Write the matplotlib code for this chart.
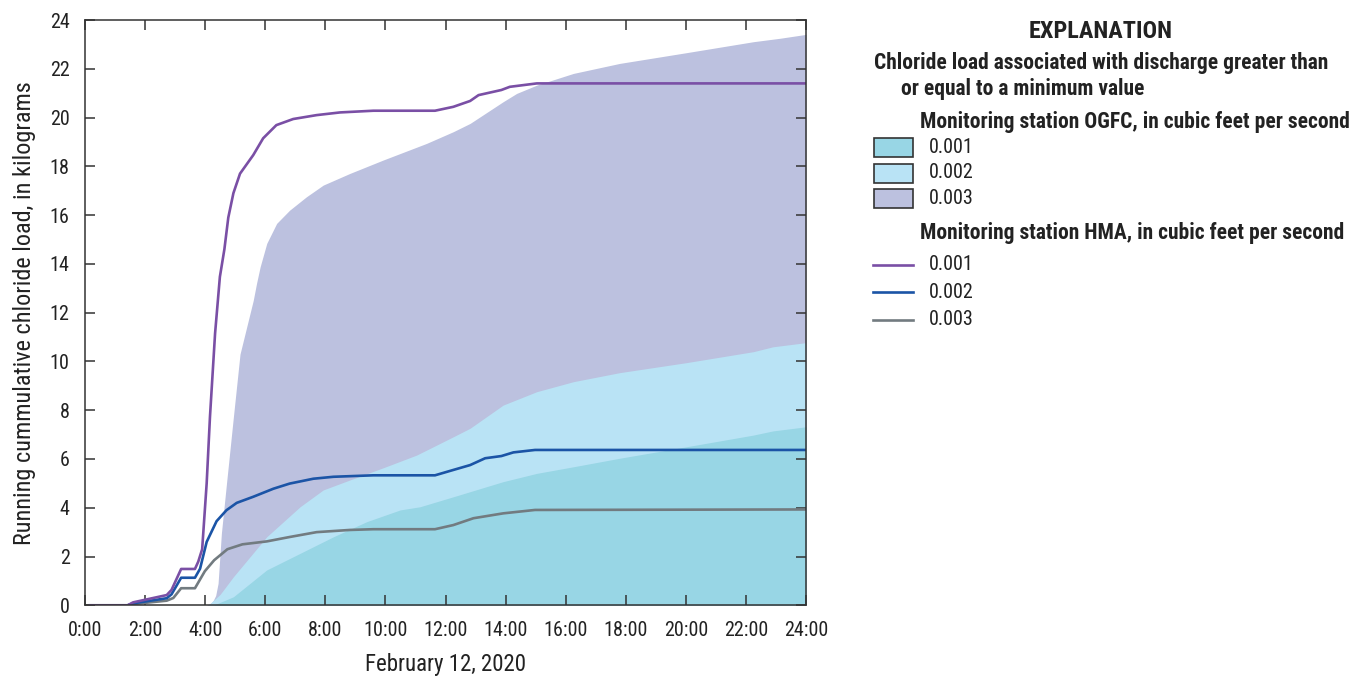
import numpy as np
import matplotlib.pyplot as plt
from matplotlib.patches import Rectangle
from matplotlib.lines import Line2D

plt.rcParams['font.family'] = ['Roboto Condensed', 'DejaVu Sans']

# OGFC running loads (kg), shaded areas
ogfc_003_t = [0, 4.05, 4.2, 4.27, 4.35, 4.43, 4.54, 4.71, 4.94, 5.16, 5.44, 5.6, 5.71, 5.83,
              6.05, 6.38, 6.81, 7.37, 7.93, 8.82, 9.93, 11.37, 12.26, 12.82, 13.92, 14.37,
              15.04, 16.26, 17.8, 20.02, 22.25, 23.13, 24]
ogfc_003_v = [0, 0, 0.1, 0.2, 0.4, 0.9, 2.95, 5.0, 7.73, 10.3, 11.7, 12.5, 13.2, 13.88,
              14.84, 15.66, 16.2, 16.75, 17.23, 17.71, 18.26, 18.94, 19.42, 19.76, 20.65, 20.99,
              21.33, 21.81, 22.22, 22.66, 23.11, 23.25, 23.41]

ogfc_002_t = [0, 4.1, 4.5, 4.94, 6.05, 7.16, 7.93, 8.82, 9.93, 11.04, 12.26, 12.82, 13.92,
              15.04, 16.26, 17.8, 20.02, 22.25, 22.9, 24]
ogfc_002_v = [0, 0, 0.45, 1.17, 2.81, 4.04, 4.73, 5.14, 5.64, 6.16, 6.91, 7.26, 8.21,
              8.76, 9.17, 9.54, 9.95, 10.4, 10.6, 10.77]

ogfc_001_t = [0, 4.27, 4.94, 6.05, 7.16, 8.27, 9.38, 10.49, 11.15, 12.26, 13.92, 15.04, 16.26,
              17.8, 20.02, 22.25, 22.9, 24]
ogfc_001_v = [0, 0, 0.35, 1.45, 2.13, 2.81, 3.43, 3.91, 4.04, 4.45, 5.07, 5.41, 5.68,
              6.03, 6.5, 6.98, 7.15, 7.32]

# HMA running loads (kg), lines
hma_001_t = [0.17, 1.42, 1.6, 2.72, 2.88, 3.2, 3.66, 3.77, 3.9, 4.05, 4.16, 4.33, 4.49, 4.64,
             4.77, 4.94, 5.16, 5.6, 5.93, 6.37, 6.93, 7.71, 8.49, 9.6, 11.65, 12.26, 12.82,
             13.1, 13.86, 14.14, 15.04, 24]
hma_001_v = [0, 0, 0.12, 0.42, 0.63, 1.49, 1.49, 1.79, 2.3, 5.0, 7.73, 11.15, 13.47, 14.6,
             15.9, 16.9, 17.7, 18.46, 19.15, 19.69, 19.94, 20.1, 20.21, 20.28, 20.28, 20.44,
             20.68, 20.92, 21.13, 21.26, 21.4, 21.4]

hma_002_t = [0.17, 1.42, 1.6, 2.72, 2.88, 3.2, 3.66, 3.83, 4.05, 4.38, 4.71, 5.05, 5.6, 6.27,
             6.81, 7.6, 8.27, 9.6, 11.65, 12.26, 12.82, 13.32, 13.86, 14.26, 14.98, 24]
hma_002_v = [0, 0, 0.08, 0.29, 0.45, 1.13, 1.13, 1.5, 2.6, 3.45, 3.9, 4.2, 4.45, 4.78,
             4.99, 5.19, 5.27, 5.33, 5.33, 5.55, 5.75, 6.03, 6.12, 6.27, 6.37, 6.37]

hma_003_t = [0.17, 1.42, 1.6, 2.72, 2.94, 3.2, 3.66, 3.99, 4.3, 4.74, 5.24, 6.05, 6.81, 7.71,
             8.82, 9.6, 11.65, 12.26, 12.93, 13.92, 14.98, 24]
hma_003_v = [0, 0, 0.05, 0.19, 0.3, 0.7, 0.7, 1.4, 1.85, 2.3, 2.5, 2.62, 2.8, 3.0,
             3.09, 3.12, 3.12, 3.29, 3.57, 3.77, 3.91, 3.93]

xticks = list(range(0, 25, 2))
xtick_labels = ['%d:00' % h for h in xticks]
yticks = list(range(0, 25, 2))
levels = ['0.001', '0.002', '0.003']

fill_colors = ['#98d6e5', '#b9e3f5', '#bcc1df']
line_colors = ['#7a4fa5', '#1b54a6', '#727b80']
edge = '#333333'

fig = plt.figure(figsize=(13.53, 6.78), dpi=100)
ax = fig.add_axes([85 / 1353, 1 - 605.3 / 678, 721 / 1353, 585.3 / 678])

ax.fill_between(ogfc_003_t, ogfc_003_v, 0, color=fill_colors[2], lw=0)
ax.fill_between(ogfc_002_t, ogfc_002_v, 0, color=fill_colors[1], lw=0)
ax.fill_between(ogfc_001_t, ogfc_001_v, 0, color=fill_colors[0], lw=0)

ax.plot(hma_003_t, hma_003_v, color=line_colors[2], lw=1.9, solid_joinstyle='round')
ax.plot(hma_002_t, hma_002_v, color=line_colors[1], lw=1.9, solid_joinstyle='round')
ax.plot(hma_001_t, hma_001_v, color=line_colors[0], lw=1.9, solid_joinstyle='round')

ax.set_xlim(0, 24)
ax.set_ylim(0, 24)
ax.set_xticks(xticks)
ax.set_xticklabels(xtick_labels)
ax.set_yticks(yticks)
ax.tick_params(direction='in', top=True, right=True, length=7.5, width=1.1,
               color=edge, labelsize=14.5, pad=11, labelcolor='#222222')
for s in ax.spines.values():
    s.set_color(edge)
    s.set_linewidth(1.1)
ax.set_xlabel('February 12, 2020', fontsize=16.5, color='#222222', labelpad=10)
ax.set_ylabel('Running cummulative chloride load, in kilograms', fontsize=17.5,
              color='#222222', labelpad=10)

# explanation block, laid out in figure pixels
leg = fig.add_axes([0, 0, 1, 1], facecolor='none')
leg.set_xlim(0, 1353)
leg.set_ylim(678, 0)
leg.axis('off')

tc = '#222222'
leg.text(1101, 31, 'EXPLANATION', ha='center', va='center', fontsize=17.5,
         fontweight='bold', color=tc)
leg.text(874, 69, 'Chloride load associated with discharge greater than', ha='left',
         va='baseline', fontsize=15.5, fontweight='bold', color=tc)
leg.text(901, 94.5, 'or equal to a minimum value', ha='left', va='baseline',
         fontsize=15.5, fontweight='bold', color=tc)
leg.text(920, 128, 'Monitoring station OGFC, in cubic feet per second', ha='left',
         va='baseline', fontsize=15.5, fontweight='bold', color=tc)
leg.text(920, 239, 'Monitoring station HMA, in cubic feet per second', ha='left',
         va='baseline', fontsize=15.5, fontweight='bold', color=tc)

box_y = [147.5, 173, 198.5]
for yc, fc, lab in zip(box_y, fill_colors, levels):
    leg.add_patch(Rectangle((873.5, yc - 9.5), 39, 19, facecolor=fc, edgecolor=edge, lw=1.2))
    leg.text(929, yc, lab, ha='left', va='center', fontsize=14.5, color=tc)

line_y = [264.5, 292, 319.5]
for yc, lc, lab in zip(line_y, line_colors, levels):
    leg.add_line(Line2D([873, 913], [yc, yc], color=lc, lw=1.9))
    leg.text(929, yc, lab, ha='left', va='center', fontsize=14.5, color=tc)

fig.savefig('out.png', dpi=100)
